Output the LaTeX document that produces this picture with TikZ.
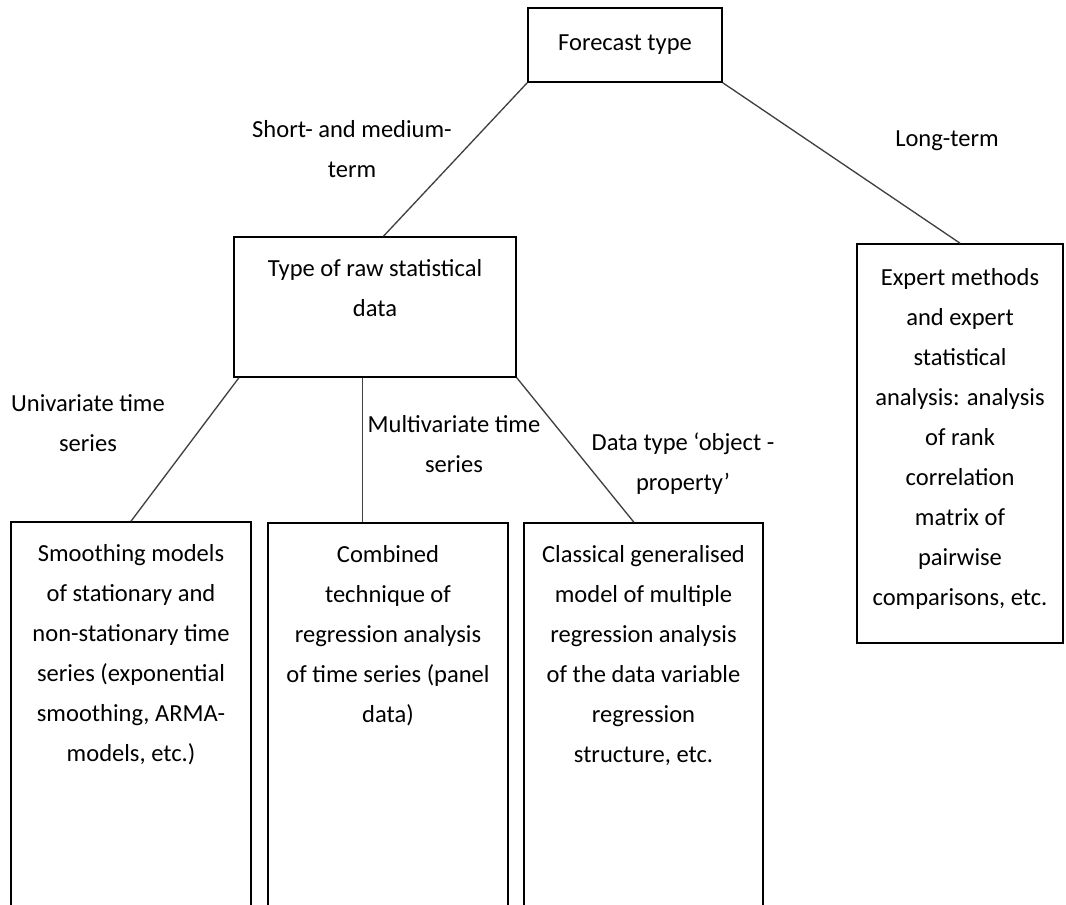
\documentclass[tikz,border=0pt]{standalone}
\usepackage{fontspec}
\setmainfont{Carlito}
\usetikzlibrary{positioning,fit,calc}

\begin{document}
\begin{tikzpicture}[x=0.75pt, y=-0.75pt,
	every node/.style={font=\fontsize{18.4}{30}\selectfont, inner sep=0pt, align=center},
	box/.style={draw, line width=1.2pt},
	link/.style={line width=1pt, black!75}]
	\useasboundingbox (0,0) rectangle (1066,904);
	\clip (0,0) rectangle (1066,904);
	\node[box, fit={(528,8) (722,82)}] (fc) {};
	\node[box, fit={(234,237) (516,377)}] (raw) {};
	\node[box, fit={(857,244) (1063,643)}] (expert) {};
	\node[box, fit={(11,522) (251,930)}] (smooth) {};
	\node[box, fit={(268,523) (508,930)}] (comb) {};
	\node[box, fit={(524,523) (763,930)}] (cls) {};

	\node[below=20.5pt of fc.north] (fctxt) {Forecast type};
	\node[below=17.5pt of raw.north] (rawtxt) {Type of raw statistical\\data};
	\node[below=19pt of expert.north] (exptxt) {Expert methods\\and expert\\statistical\\analysis: analysis\\of rank\\correlation\\matrix of\\pairwise\\comparisons, etc.};
	\node[below=17.5pt of smooth.north] (smtxt) {Smoothing models\\of stationary and\\non-stationary time\\series (exponential\\smoothing, ARMA-\\models, etc.)};
	\node[below=17.5pt of comb.north] (cbtxt) {Combined\\technique of\\regression analysis\\of time series (panel\\data)};
	\node[below=17.5pt of cls.north] (clstxt) {Classical generalised\\model of multiple\\regression analysis\\of the data variable\\regression\\structure, etc.};

	\node[anchor=north] (shortlbl) at (352,120) {Short- and medium-\\term};
	\node[anchor=north] (longlbl) at (947,130) {Long-term};
	\node[anchor=north] (unilbl) at (88,394) {Univariate time\\series};
	\node[anchor=north] (multilbl) at (454,415) {Multivariate time\\series};
	\node[anchor=north] (datalbl) at (683,433) {Data type ‘object -\\property’};

	\draw[link] (fc.south west) -- ($(raw.north west)!.53!(raw.north east)$);
	\draw[link] (fc.south east) -- (expert.north);
	\draw[link] ($(raw.south west)!.02!(raw.south east)$) -- (smooth.north);
	\draw[link] ($(raw.south west)!.457!(raw.south east)$) coordinate (rawmid) -- (rawmid |- comb.north);
	\draw[link] (raw.south east) -- ($(cls.north west)!.46!(cls.north east)$);
\end{tikzpicture}
\end{document}
